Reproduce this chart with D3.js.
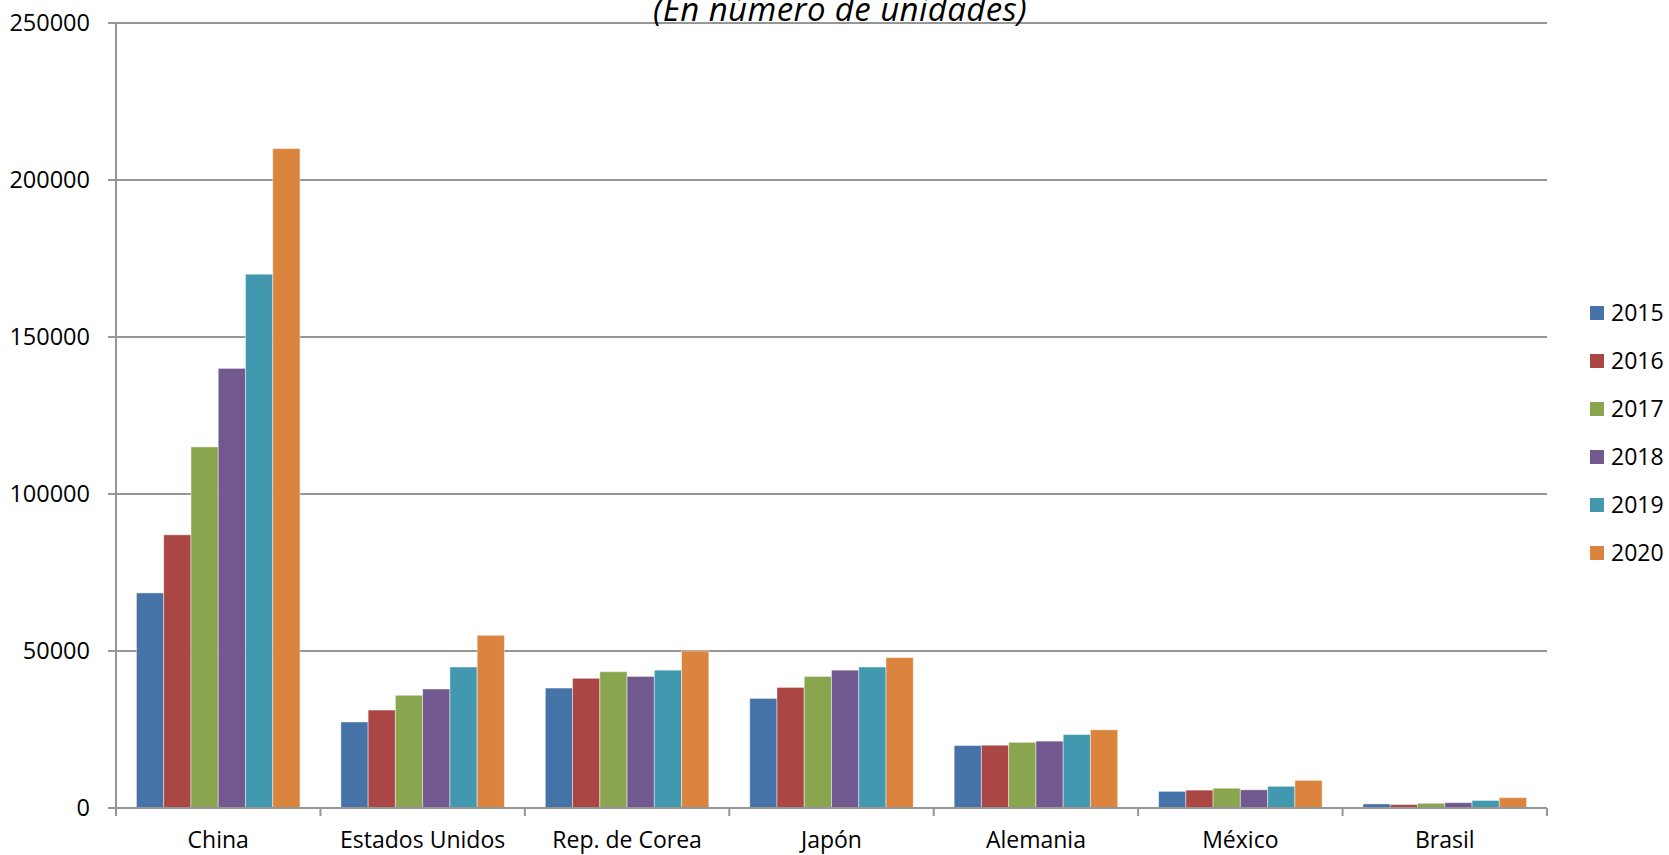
<!DOCTYPE html>
<html>
<head>
<meta charset="utf-8">
<script src="https://cdnjs.cloudflare.com/ajax/libs/d3/7.8.5/d3.min.js"></script>
<style>
    body { margin: 0; background: #fff; }
    text { font-family: "Open Sans", sans-serif; fill: #000; }
</style>
</head>
<body>
<svg width="1669" height="855"></svg>
<script>
// data
const countries = ["China", "Estados Unidos", "Rep. de Corea", "Japón", "Alemania", "México", "Brasil"];
const years = ["2015", "2016", "2017", "2018", "2019", "2020"];
const values2015 = [68500, 27400, 38200, 34900, 19900, 5300, 1300];
const values2016 = [87000, 31200, 41300, 38400, 20000, 5700, 1100];
const values2017 = [115000, 35900, 43400, 41900, 20900, 6300, 1500];
const values2018 = [140000, 37900, 41900, 43900, 21300, 5800, 1700];
const values2019 = [170000, 44900, 43900, 44900, 23400, 6900, 2400];
const values2020 = [210000, 55000, 50000, 47900, 24900, 8800, 3300];
const yTicks = [0, 50000, 100000, 150000, 200000, 250000];
const colors = ["#4572A7", "#AA4643", "#89A54E", "#71588F", "#4198AF", "#DB843D"];

const series = [values2015, values2016, values2017, values2018, values2019, values2020];

const svg = d3.select("svg");

const x0 = d3.scaleBand()
    .domain(countries)
    .range([116, 1547]);

const x1 = d3.scaleBand()
    .domain(years)
    .range([x0.bandwidth() * 0.1, x0.bandwidth() * 0.9]);

const y = d3.scaleLinear()
    .domain([0, 250000])
    .range([808, 23]);

const color = d3.scaleOrdinal().domain(years).range(colors);

// gridlines
svg.append("g")
    .selectAll("line")
    .data(yTicks.slice(1))
    .enter()
    .append("line")
    .attr("x1", 108)
    .attr("x2", 1547)
    .attr("y1", d => y(d))
    .attr("y2", d => y(d))
    .attr("stroke", "#969696")
    .attr("stroke-width", 2);

// y labels + ticks
svg.append("g")
    .selectAll("text")
    .data(yTicks)
    .enter()
    .append("text")
    .attr("x", 90)
    .attr("y", d => y(d))
    .attr("dy", "0.36em")
    .attr("text-anchor", "end")
    .style("font-size", "23.5px")
    .text(d => d);

svg.append("line")
    .attr("x1", 108).attr("x2", 116)
    .attr("y1", y(0)).attr("y2", y(0))
    .attr("stroke", "#969696").attr("stroke-width", 2);

// bars
const rows = [];
countries.forEach((c, i) => {
    years.forEach((yr, j) => {
        rows.push({ country: c, year: yr, value: series[j][i] });
    });
});

svg.append("g")
    .selectAll("rect")
    .data(rows)
    .enter()
    .append("rect")
    .attr("x", d => x0(d.country) + x1(d.year))
    .attr("y", d => y(d.value))
    .attr("width", x1.bandwidth())
    .attr("height", d => y(0) - y(d.value))
    .attr("fill", d => color(d.year))
    .attr("stroke", "#fff")
    .attr("stroke-opacity", 0.45)
    .attr("stroke-width", 1);

// x axis line
svg.append("line")
    .attr("x1", 116).attr("x2", 1547)
    .attr("y1", y(0)).attr("y2", y(0))
    .attr("stroke", "#969696").attr("stroke-width", 2);

// y axis line
svg.append("line")
    .attr("x1", 116).attr("x2", 116)
    .attr("y1", 22).attr("y2", 816)
    .attr("stroke", "#969696").attr("stroke-width", 2);

// category ticks
const bounds = countries.map(c => x0(c)).concat([x0.range()[1]]);
svg.append("g")
    .selectAll("line")
    .data(bounds.slice(1))
    .enter()
    .append("line")
    .attr("x1", d => d).attr("x2", d => d)
    .attr("y1", y(0)).attr("y2", y(0) + 8)
    .attr("stroke", "#969696").attr("stroke-width", 2);

// category labels
svg.append("g")
    .selectAll("text")
    .data(countries)
    .enter()
    .append("text")
    .attr("x", d => x0(d) + x0.bandwidth() / 2)
    .attr("y", 848)
    .attr("text-anchor", "middle")
    .style("font-size", "23px")
    .text(d => d);

// title (cut off at the top, as in the original)
svg.append("text")
    .attr("x", 840)
    .attr("y", 21)
    .attr("text-anchor", "middle")
    .style("font-size", "33px")
    .style("letter-spacing", "0.4px")
    .style("font-style", "italic")
    .text("(En número de unidades)");

// legend
const legend = svg.append("g")
    .selectAll("g")
    .data(years)
    .enter()
    .append("g")
    .attr("transform", (d, i) => `translate(1590, ${306 + i * 48})`);

legend.append("rect")
    .attr("width", 14)
    .attr("height", 14)
    .attr("fill", d => color(d));

legend.append("text")
    .attr("x", 21)
    .attr("y", 7)
    .attr("dy", "0.36em")
    .style("font-size", "23px")
    .text(d => d);
</script>
</body>
</html>
